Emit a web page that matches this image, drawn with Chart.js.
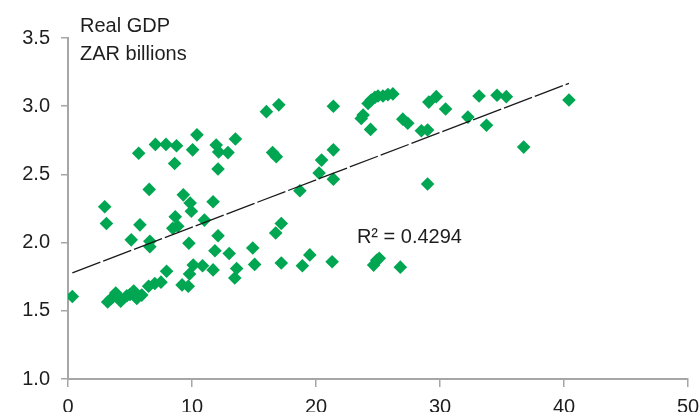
<!DOCTYPE html>
<html>
<head>
<meta charset="utf-8">
<script src="https://cdn.jsdelivr.net/npm/chart.js@4/dist/chart.umd.min.js"></script>
<style>
  html, body { margin: 0; padding: 0; background: #fff; overflow: hidden; }
  #wrap { width: 700px; height: 412px; }
</style>
</head>
<body>
<div id="wrap"><canvas id="gdpChart" width="700" height="412"></canvas></div>
<script>
// values (x axis unlabelled, y = real GDP, ZAR billions)
const xValues = [
  0.35, 2.96, 3.10, 3.2, 3.5, 3.85, 4.1, 4.25, 4.75, 5.0,
  5.3, 5.55, 5.95, 6.5, 7.0, 7.5, 7.95, 9.2, 9.7, 9.8,
  10.1, 10.85, 11.7, 13.45, 13.6, 15.05, 17.2, 18.9, 19.5, 21.3,
  24.65, 24.9, 25.1, 26.8, 5.1, 5.8, 6.6, 6.6, 6.55, 8.45,
  8.85, 8.65, 9.3, 9.85, 9.95, 9.75, 11.0, 11.7, 12.1, 11.85,
  13.0, 14.9, 16.75, 17.2, 18.7, 20.25, 20.45, 21.4, 21.4, 29.0,
  5.7, 7.05, 7.9, 8.75, 8.6, 10.4, 10.05, 11.95, 12.15, 12.9,
  13.5, 12.1, 16.5, 16.8, 16.0, 17.0, 21.4, 23.8, 23.65, 24.2,
  24.45, 24.75, 25.0, 25.4, 25.8, 26.2, 24.4, 27.0, 27.4, 28.5,
  29.0, 29.1, 29.7, 30.45, 32.25, 33.15, 33.75, 34.6, 35.35, 36.75,
  40.4
];
const gdpValues = [
  1.605, 2.263, 2.14, 1.565, 1.59, 1.63, 1.60, 1.57, 1.61, 1.62,
  1.645, 1.59, 1.615, 1.68, 1.70, 1.71, 1.79, 1.69, 1.68, 1.77,
  1.835, 1.83, 1.80, 1.74, 1.81, 1.84, 1.85, 1.83, 1.91, 1.86,
  1.835, 1.87, 1.885, 1.82, 2.02, 2.13, 2.01, 1.97, 2.39, 2.105,
  2.12, 2.19, 2.35, 2.29, 2.23, 1.995, 2.165, 2.30, 2.05, 1.94,
  1.92, 1.96, 2.07, 2.14, 2.38, 2.51, 2.605, 2.465, 2.68, 2.43,
  2.655, 2.72, 2.72, 2.71, 2.58, 2.79, 2.68, 2.715, 2.665, 2.66,
  2.76, 2.54, 2.66, 2.63, 2.96, 3.01, 3.00, 2.935, 2.91, 3.02,
  3.045, 3.065, 3.075, 3.075, 3.085, 3.09, 2.83, 2.905, 2.875, 2.82,
  2.825, 3.03, 3.07, 2.98, 2.92, 3.075, 2.86, 3.08, 3.07, 2.70,
  3.045
];
const xTicks = [0, 10, 20, 30, 40, 50];
const yTicks = [1.0, 1.5, 2.0, 2.5, 3.0, 3.5];

// linear trend shown in the picture
const trendIntercept = 1.766;
const trendSlope = 0.0347;
const rSquaredText = 'R\u00b2 = 0.4294';
const titleLines = ['Real GDP', 'ZAR billions'];

const fontFamily = '"Liberation Sans", Arial, sans-serif';
const axisGray = '#a6a6a6';
const textColor = '#1e1e1e';

const points = xValues.map((x, i) => ({ x: x, y: gdpValues[i] }));
const xMin = Math.min(...xValues);
const xMax = Math.max(...xValues);
const trendPoints = [
  { x: xMin, y: trendIntercept + trendSlope * xMin },
  { x: xMax, y: trendIntercept + trendSlope * xMax }
];

// titolo in alto a sinistra + etichetta R²
const textPlugin = {
  id: 'textPlugin',
  afterDraw(chart) {
    const ctx = chart.ctx;
    ctx.save();
    ctx.fillStyle = textColor;
    ctx.font = '20px ' + fontFamily;
    ctx.textBaseline = 'alphabetic';
    ctx.textAlign = 'left';
    ctx.fillText(titleLines[0], 80, 32);
    ctx.fillText(titleLines[1], 80, 60);
    const xs = chart.scales.x, ys = chart.scales.y;
    ctx.textBaseline = 'middle';
    ctx.fillText(rSquaredText, xs.getPixelForValue(23.3), ys.getPixelForValue(2.04));
    ctx.restore();
  }
};

const ctx = document.getElementById('gdpChart').getContext('2d');
new Chart(ctx, {
  type: 'scatter',
  data: {
    datasets: [
      {
        type: 'line',
        label: 'Trend',
        data: trendPoints,
        borderColor: '#1a1a1a',
        borderWidth: 1.3,
        borderDash: [30, 3],
        pointRadius: 0,
        fill: false,
        order: 0
      },
      {
        label: 'Real GDP',
        data: points,
        pointStyle: 'rectRot',
        pointRadius: 6.8,
        backgroundColor: '#00a651',
        borderColor: '#00a651',
        borderWidth: 0,
        order: 1
      }
    ]
  },
  options: {
    responsive: false,
    animation: false,
    layout: { padding: { top: 38, right: 12, left: 0, bottom: 0 } },
    plugins: {
      legend: { display: false },
      tooltip: { enabled: false }
    },
    scales: {
      x: {
        type: 'linear',
        min: xTicks[0],
        max: xTicks[xTicks.length - 1],
        afterBuildTicks: s => { s.ticks = xTicks.map(v => ({ value: v })); },
        afterFit: s => { s.height = 33; s.paddingRight = 0; s.paddingLeft = 0; },
        grid: { drawOnChartArea: false, drawTicks: true, tickLength: 8, color: axisGray, lineWidth: 1.5 },
        border: { display: true, color: axisGray, width: 2 },
        ticks: {
          padding: 8,
          color: textColor,
          font: { size: 20, family: fontFamily },
          maxRotation: 0,
          callback: v => String(v)
        }
      },
      y: {
        type: 'linear',
        min: yTicks[0],
        max: yTicks[yTicks.length - 1],
        afterBuildTicks: s => { s.ticks = yTicks.map(v => ({ value: v })); },
        afterFit: s => { s.width = 68; },
        grid: { drawOnChartArea: false, drawTicks: true, tickLength: 7, color: axisGray, lineWidth: 1.5 },
        border: { display: true, color: axisGray, width: 2 },
        ticks: {
          padding: 11,
          color: textColor,
          font: { size: 20, family: fontFamily },
          callback: v => Number(v).toFixed(1)
        }
      }
    }
  },
  plugins: [textPlugin]
});
</script>
</body>
</html>
